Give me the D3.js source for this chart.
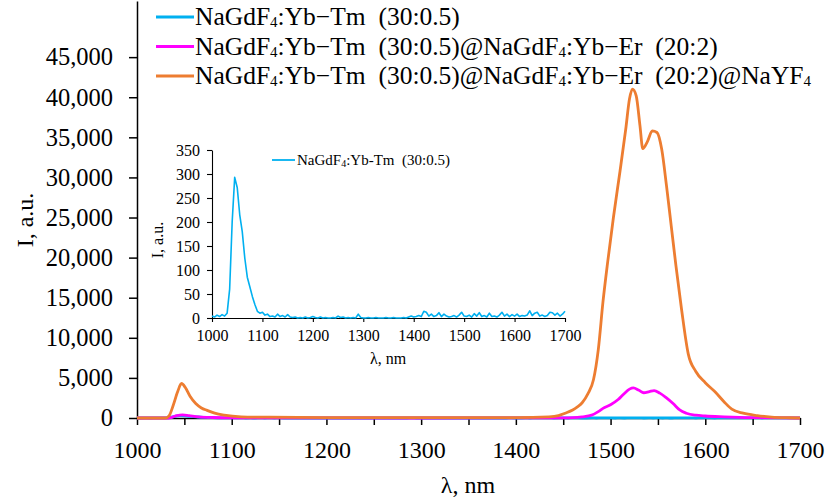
<!DOCTYPE html>
<html>
<head>
<meta charset="utf-8">
<script src="https://cdn.jsdelivr.net/npm/d3@7"></script>
<style>
  body { margin: 0; background: #fff; }
  svg { display: block; font-family: "Liberation Serif", "Times New Roman", serif; }
  .axis path, .axis line { stroke: #000; stroke-width: 1.5; }
  .axis text { fill: #000; font-family: "Liberation Serif", serif; }
</style>
</head>
<body>
<svg id="chart" width="829" height="497"></svg>
<script>
// series colours / names
var seriesColors = ['#00B0F0', '#FF00FF', '#ED7D31'];

// main x and y ticks
var xTicksMain = [1000, 1050, 1100, 1150, 1200, 1250, 1300, 1350, 1400, 1450, 1500, 1550, 1600, 1650, 1700];
var yTicksMain = [0, 5000, 10000, 15000, 20000, 25000, 30000, 35000, 40000, 45000];
var xTicksInset = [1000, 1100, 1200, 1300, 1400, 1500, 1600, 1700];
var yTicksInset = [0, 50, 100, 150, 200, 250, 300, 350];

// NaGdF4:Yb-Tm (30:0.5) core, every 5 nm from 1000 to 1700
var coreStart = 1000, coreStep = 5;
var coreValues = [
  4, 2, 6, 3, 7, 4, 10, 60, 200, 293, 272, 215, 180, 125, 85, 65, 45, 28, 14, 10,
  12, 6, 8, 3, 4, 2, 8, 3, 5, 2, 7, 2, 1, 2, 0, 1, 0, 2, 0, 1,
  3, 1, 0, 2, 0, 1, 0, 0, 1, 0, 4, 1, 2, 0, 1, 0, 1, 0, 8, 1,
  0, 0, 1, 0, 0, 1, 0, 0, 0, 1, 0, 0, 1, 0, 0, 0, 1, 0, 2, 4,
  2, 3, 5, 3, 14, 12, 4, 8, 3, 5, 11, 3, 8, 4, 2, 3, 5, 2, 6, 12,
  4, 3, 6, 2, 9, 4, 11, 3, 5, 2, 10, 3, 4, 2, 6, 12, 4, 8, 3, 7,
  4, 8, 3, 5, 4, 6, 15, 5, 10, 12, 4, 6, 3, 5, 12, 11, 6, 10, 4, 8, 14
];

// core@shell (20:2)
var shellWl = [1000, 1030, 1036, 1042, 1048, 1055, 1065, 1080, 1100, 1150, 1300, 1450, 1460, 1470, 1480, 1487, 1492,
  1500, 1508, 1514, 1520, 1524, 1530, 1535, 1541, 1546, 1552, 1559, 1566, 1573, 1580, 1590, 1600, 1620, 1650, 1700];
var shellI = [0, 0, 60, 300, 400, 300, 150, 60, 20, 10, 0, 10, 40, 150, 350, 800, 1200,
  1650, 2300, 3000, 3600, 3750, 3450, 3150, 3300, 3420, 3100, 2500, 1800, 1000, 600, 350, 250, 150, 50, 0];

// core@shell@NaYF4
var outerWl = [1000, 1030, 1034, 1038, 1043, 1047, 1051, 1056, 1062, 1068, 1074, 1082, 1092, 1110, 1140, 1200, 1300,
  1400, 1435, 1445, 1452, 1460, 1465, 1470, 1476, 1482, 1487, 1492, 1497, 1503, 1510, 1516, 1520, 1523,
  1527, 1531, 1534, 1539, 1544, 1549, 1554, 1559, 1564, 1569, 1575, 1582, 1590, 1600, 1610, 1620, 1628,
  1640, 1655, 1670, 1690, 1700];
var outerI = [0, 0, 300, 1500, 3300, 4300, 3800, 2700, 1800, 1250, 950, 600, 350, 150, 100, 50, 40,
  50, 150, 300, 600, 1000, 1400, 1900, 3000, 4800, 8500, 14500, 19500, 25000, 30800, 36000, 39800, 41000,
  40200, 36500, 33600, 34500, 35800, 35600, 33500, 29000, 24000, 19000, 13500, 8000, 5800, 4400, 3300, 2000, 1100,
  600, 300, 120, 30, 0];

var legendNames = [
  ['NaGdF', '4', ':Yb\u2212Tm\u00A0\u00A0(30:0.5)'],
  ['NaGdF', '4', ':Yb\u2212Tm\u00A0\u00A0(30:0.5)@NaGdF', '4', ':Yb\u2212Er\u00A0\u00A0(20:2)'],
  ['NaGdF', '4', ':Yb\u2212Tm\u00A0\u00A0(30:0.5)@NaGdF', '4', ':Yb\u2212Er\u00A0\u00A0(20:2)@NaYF', '4']
];
var insetLegendName = ['NaGdF', '4', ':Yb-Tm\u00A0\u00A0(30:0.5)'];

var coreData = coreValues.map(function (v, i) { return [coreStart + i * coreStep, v]; });
var shellData = shellWl.map(function (w, i) { return [w, shellI[i]]; });
var outerData = outerWl.map(function (w, i) { return [w, outerI[i]]; });

var svg = d3.select('#chart');

function addRich(textSel, parts, subSize) {
  parts.forEach(function (p, i) {
    var t = textSel.append('tspan').text(p);
    if (i % 2 === 1) {
      t.style('font-size', subSize + 'px').attr('dy', 2);
    } else if (i > 0) {
      t.attr('dy', -2);
    }
  });
}

// ---------------- main chart ----------------
var x = d3.scaleLinear().domain([1000, 1700]).range([137, 800]);
var y = d3.scaleLinear().domain([0, 52000]).range([418, 1]);

var xAxis = d3.axisBottom(x).tickValues(xTicksMain).tickSize(7).tickSizeOuter(0)
  .tickFormat(function (d) { return d % 100 === 0 ? d : ''; });
var gx = svg.append('g').attr('class', 'axis').attr('transform', 'translate(0,418)').call(xAxis);
gx.selectAll('text').style('font-size', '24px').attr('dy', '1.25em');

var yAxis = d3.axisLeft(y).tickValues(yTicksMain).tickSize(8).tickSizeOuter(0)
  .tickFormat(d3.format(','));
var gy = svg.append('g').attr('class', 'axis').attr('transform', 'translate(137,0)').call(yAxis);
gy.selectAll('text').style('font-size', '24.5px').attr('x', -24);

svg.append('text').attr('x', 468).attr('y', 493).attr('text-anchor', 'middle')
  .style('font-size', '24px').text('\u03BB, nm');
svg.append('text').attr('transform', 'translate(33,220) rotate(-90)').attr('text-anchor', 'middle')
  .style('font-size', '24px').text('I, a.u.');

var line = d3.line().x(function (d) { return x(d[0]); }).y(function (d) { return y(d[1]); })
  .curve(d3.curveMonotoneX);

[coreData, shellData, outerData].forEach(function (data, i) {
  svg.append('path').datum(data).attr('d', line).attr('fill', 'none')
    .attr('stroke', seriesColors[i]).attr('stroke-width', 2.8).attr('stroke-linejoin', 'round');
});

// legend
var legend = svg.append('g');
legendNames.forEach(function (parts, i) {
  var ly = 17 + i * 29.5;
  legend.append('line').attr('x1', 156).attr('x2', 194).attr('y1', ly).attr('y2', ly)
    .attr('stroke', seriesColors[i]).attr('stroke-width', 2.8);
  var t = legend.append('text').attr('x', 195).attr('y', ly + 8).style('font-size', '25.5px');
  addRich(t, parts, 15);
});

// ---------------- inset ----------------
var xi = d3.scaleLinear().domain([1000, 1700]).range([212, 565]);
var yi = d3.scaleLinear().domain([0, 350]).range([318, 150]);

var gxi = svg.append('g').attr('class', 'axis inset').attr('transform', 'translate(0,318)')
  .call(d3.axisBottom(xi).tickValues(xTicksInset).tickSize(4).tickSizeOuter(0).tickFormat(d3.format('d')));
gxi.selectAll('text').style('font-size', '16px').attr('dy', '1.0em');
var gyi = svg.append('g').attr('class', 'axis inset').attr('transform', 'translate(212,0)')
  .call(d3.axisLeft(yi).tickValues(yTicksInset).tickSize(5).tickSizeOuter(0));
gyi.selectAll('text').style('font-size', '16px').attr('x', -12);
svg.selectAll('.inset path, .inset line').style('stroke-width', 1.1);

svg.append('text').attr('x', 388).attr('y', 364).attr('text-anchor', 'middle')
  .style('font-size', '16px').text('\u03BB, nm');
svg.append('text').attr('transform', 'translate(163,240) rotate(-90)').attr('text-anchor', 'middle')
  .style('font-size', '16px').text('I, a.u.');

var lineInset = d3.line().x(function (d) { return xi(d[0]); }).y(function (d) { return yi(d[1]); });
svg.append('path').datum(coreData).attr('d', lineInset).attr('fill', 'none')
  .attr('stroke', seriesColors[0]).attr('stroke-width', 1.6).attr('stroke-linejoin', 'round');

svg.append('line').attr('x1', 272).attr('x2', 295).attr('y1', 160).attr('y2', 160)
  .attr('stroke', seriesColors[0]).attr('stroke-width', 1.8);
var ti = svg.append('text').attr('x', 297).attr('y', 165).style('font-size', '15px');
addRich(ti, insetLegendName, 10);
</script>
</body>
</html>
